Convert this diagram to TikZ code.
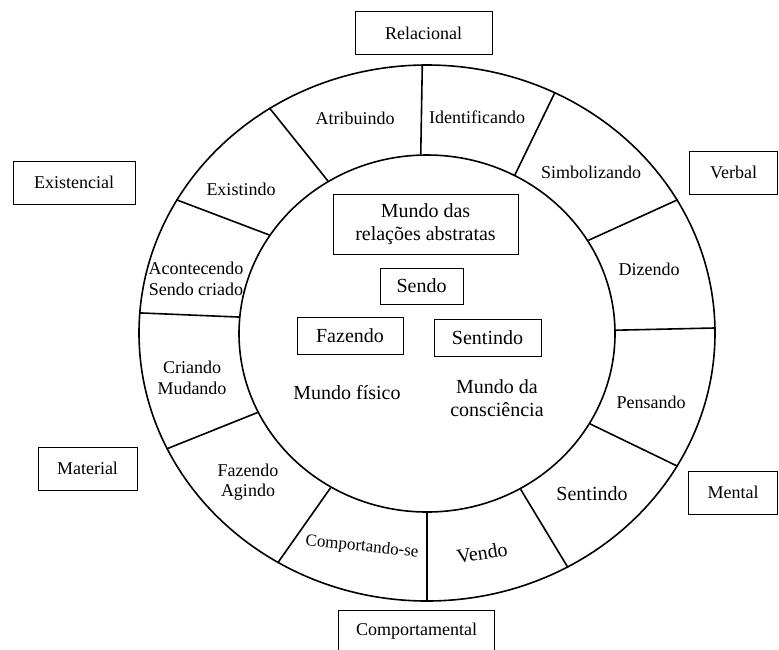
\documentclass[tikz,border=0pt]{standalone}
\usepackage{fontspec}
\setmainfont{Liberation Serif}
\usetikzlibrary{shapes.geometric}
\newcommand\fsa{\fontsize{18}{20.5}\selectfont}
\newcommand\fsb{\fontsize{20}{23.5}\selectfont}
\newcommand\fsc{\fontsize{17}{20}\selectfont}
\tikzset{
  ring/.style={draw, ellipse, line width=1.6pt, inner sep=0pt},
  divider/.style={line width=1.6pt},
  catbox/.style={draw, line width=0.8pt, inner sep=0pt, font=\fsa, minimum height=43pt},
  innerbox/.style={draw, line width=0.8pt, inner sep=0pt, font=\fsb, align=center},
  lbl/.style={inner sep=0pt, font=\fsa, align=center},
  biglbl/.style={inner sep=0pt, font=\fsb, align=center}
}
\begin{document}
\begin{tikzpicture}[x=1pt,y=-1pt]
\useasboundingbox (0,0) rectangle (779,649);
\fill[white] (0,0) rectangle (779,649);
% rings
\node[ring, minimum width=576pt, minimum height=536pt] (out) at (427,333) {};
\node[ring, minimum width=376pt, minimum height=357pt] (in) at (427,333.5) {};
% dividers
\draw[divider] (in.92) -- (out.91.4);
\draw[divider] (in.61.5) -- (out.62.7);
\draw[divider] (in.30.2) -- (out.28.7);
\draw[divider] (in.1.5) -- (out.1.2);
\draw[divider] (in.-29.9) -- (out.-28.7);
\draw[divider] (in.-59.3) -- (out.-59.6);
\draw[divider] (in.-90.3) -- (out.-90);
\draw[divider] (in.238.1) -- (out.237.7);
\draw[divider] (in.205.9) -- (out.204.9);
\draw[divider] (in.175.1) -- (out.176.8);
\draw[divider] (in.148.3) -- (out.152.8);
\draw[divider] (in.123.2) -- (out.125.7);
% ring labels
\node[lbl] (atr) at (355,118) {Atribuindo};
\node[lbl] (ide) at (477,117) {Identificando};
\node[lbl] (sim) at (591,172) {Simbolizando};
\node[lbl] (diz) at (649,269) {Dizendo};
\node[lbl] (pen) at (651,402) {Pensando};
\node[biglbl] (sen) at (592,494) {Sentindo};
\node[biglbl, rotate=9] (ven) at (482,553) {Vendo};
\node[inner sep=0pt, font=\fsc, rotate=-6] (com) at (362,547) {Comportando-se};
\node[lbl] (faz) at (248,482) {Fazendo\\Agindo};
\node[lbl] (cri) at (192,378) {Criando\\Mudando};
\node[lbl] (aco) at (196,279) {Acontecendo\\Sendo criado};
\node[lbl] (exi) at (241,189) {Existindo};
% outer category boxes
\node[catbox, minimum width=137pt] (rel) at (423.5,33) {Relacional};
\node[catbox, minimum width=88pt] (verb) at (733.5,172.5) {Verbal};
\node[catbox, minimum width=122pt] (exist) at (74,182.5) {Existencial};
\node[catbox, minimum width=99pt] (mat) at (87.5,468.5) {Material};
\node[catbox, minimum width=89pt] (men) at (733,492.5) {Mental};
\node[catbox, minimum width=156pt] (comp) at (416.5,631.5) {Comportamental};
% inner boxes
\node[innerbox, minimum width=185pt, minimum height=60pt] (abs) at (425.5,224) {Mundo das\\relações abstratas};
\node[innerbox, minimum width=83pt, minimum height=36pt] (sendo) at (421.5,286) {Sendo};
\node[innerbox, minimum width=106pt, minimum height=37pt] (fazb) at (350,335.5) {Fazendo};
\node[innerbox, minimum width=107pt, minimum height=37pt] (senb) at (487.5,337.5) {Sentindo};
% inner texts
\node[biglbl] (fis) at (347,393) {Mundo físico};
\node[biglbl] (cons) at (497,398) {Mundo da\\consciência};
\end{tikzpicture}
\end{document}
